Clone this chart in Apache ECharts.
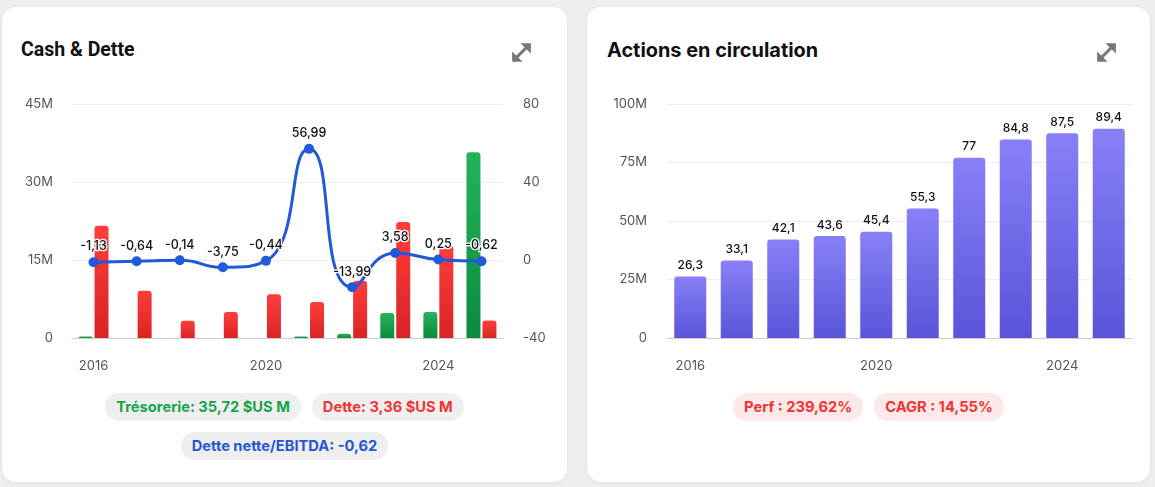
<!DOCTYPE html>
<html>
<head>
<meta charset="utf-8">
<script src="https://cdn.jsdelivr.net/npm/echarts@6/dist/echarts.min.js"></script>
<style>
  html, body { margin:0; padding:0; width:1155px; height:487px; background:#eeeeee; overflow:hidden; font-family: Inter, "Noto Sans", sans-serif; }
  .card { position:absolute; top:7px; height:475px; background:#fff; border-radius:14px; box-shadow:0 1px 4px rgba(0,0,0,0.06); }
  .title { position:absolute; top:31px; font-weight:700; color:#111; }
  .icon { position:absolute; top:32px; width:27px; height:27px; }
  .chart { position:absolute; top:90px; height:290px; }
  .row { position:absolute; left:0; right:0; display:flex; justify-content:center; gap:11px; }
  .pill { height:28px; line-height:28px; padding:0 11px; border-radius:14px; font-size:14.7px; font-weight:700; white-space:nowrap; }
</style>
</head>
<body>
<div class="card" style="left:2px; width:565px;">
  <div class="title" style="left:19px; font-size:19.5px; font-family:Roboto, Inter, sans-serif;">Cash &amp; Dette</div>
  <svg class="icon" style="left:506px;" viewBox="0 0 26 26"><g stroke="#777" stroke-width="3" fill="#777"><line x1="6" y1="20" x2="20" y2="6"/></g><polygon points="12,4 22,4 22,14" fill="#777"/><polygon points="4,12 4,22 14,22" fill="#777"/></svg>
  <div class="row" style="top:386px;">
    <div class="pill" style="background:#efefef; color:#16a34a;">Trésorerie: 35,72 $US M</div>
    <div class="pill" style="background:#efefef; color:#ef3434;">Dette: 3,36 $US M</div>
  </div>
  <div class="row" style="top:425px;">
    <div class="pill" style="background:#efefef; color:#2556d2;">Dette nette/EBITDA: -0,62</div>
  </div>
</div>
<div class="card" style="left:587px; width:563px;">
  <div class="title" style="left:20px; font-size:19.9px;">Actions en circulation</div>
  <svg class="icon" style="left:506px;" viewBox="0 0 26 26"><g stroke="#777" stroke-width="3" fill="#777"><line x1="6" y1="20" x2="20" y2="6"/></g><polygon points="12,4 22,4 22,14" fill="#777"/><polygon points="4,12 4,22 14,22" fill="#777"/></svg>
  <div class="row" style="top:386px;">
    <div class="pill" style="background:#fde9e9; color:#ef3434;">Perf : 239,62%</div>
    <div class="pill" style="background:#fde9e9; color:#ef3434;">CAGR : 14,55%</div>
  </div>
</div>
<div id="c1" class="chart" style="left:2px; width:565px;"></div>
<div id="c2" class="chart" style="left:587px; width:563px;"></div>
<script>
// ---- Data ----
const years = ['2016','2017','2018','2019','2020','2021','2022','2023','2024','2025'];
const cash = [0.3, 0, 0, 0, 0, 0.3, 0.8, 4.8, 5.0, 35.72];      // $US M
const debt = [21.6, 9.1, 3.3, 5.0, 8.4, 6.9, 11.0, 22.3, 17.8, 3.36]; // $US M
const netDebtEbitda = [-1.13, -0.64, -0.14, -3.75, -0.44, 56.99, -13.99, 3.58, 0.25, -0.62];
const leftTicks = { min: 0, max: 45, interval: 15 };
const rightTicks = { min: -40, max: 80, interval: 40 };
const shares = [26.3, 33.1, 42.1, 43.6, 45.4, 55.3, 77, 84.8, 87.5, 89.4]; // M
const sharesTicks = { min: 0, max: 100, interval: 25 };

const fmtComma = v => String(v).replace('.', ',');
const fmtM = v => v === 0 ? '0' : v + 'M';
const FONT = 'Inter, "Noto Sans", sans-serif';
const grad = (a, b) => new echarts.graphic.LinearGradient(0, 0, 0, 1, [{offset:0, color:a}, {offset:1, color:b}]);

const axisLabelStyle = { color:'#555', fontSize:13, fontFamily:FONT };

const c1 = echarts.init(document.getElementById('c1'));
c1.setOption({
  animation:false,
  grid:{ left:70, right:64, top:14, bottom:42 },
  xAxis:{
    type:'category', data:years, boundaryGap:true,
    axisLine:{ lineStyle:{ color:'#cccccc' } },
    axisTick:{ alignWithLabel:true, interval:1, length:5, lineStyle:{ color:'#cccccc' } },
    axisLabel:{ ...axisLabelStyle, interval:3, margin:22 }
  },
  yAxis:[
    { type:'value', ...leftTicks, axisLabel:{ ...axisLabelStyle, margin:19, formatter:fmtM },
      splitLine:{ lineStyle:{ color:'#eeeeee' } }, axisLine:{show:false}, axisTick:{show:false} },
    { type:'value', ...rightTicks, axisLabel:{ ...axisLabelStyle, margin:20 },
      splitLine:{ show:false }, axisLine:{show:false}, axisTick:{show:false} }
  ],
  series:[
    { type:'bar', name:'Trésorerie', data:cash, barWidth:14, barGap:'14%',
      itemStyle:{ color:grad('#22b55c','#0c8a3b'), borderRadius:[3,3,0,0] } },
    { type:'bar', name:'Dette', data:debt, barWidth:14,
      itemStyle:{ color:grad('#ff3d3d','#d92424'), borderRadius:[3,3,0,0] } },
    { type:'line', name:'Dette nette/EBITDA', yAxisIndex:1, data:netDebtEbitda, smooth:0.55,
      symbol:'circle', symbolSize:10, z:5,
      lineStyle:{ color:'#2059d9', width:3 }, itemStyle:{ color:'#2059d9' },
      label:{ show:true, position:'top', distance:4, color:'#111', fontSize:12.5, fontWeight:500, fontFamily:FONT,
              textBorderColor:'#fff', textBorderWidth:2.5, formatter:p => fmtComma(p.value) } }
  ]
});

const c2 = echarts.init(document.getElementById('c2'));
c2.setOption({
  animation:false,
  grid:{ left:80, right:18, top:14, bottom:42 },
  xAxis:{
    type:'category', data:years, boundaryGap:true,
    axisLine:{ lineStyle:{ color:'#cccccc' } },
    axisTick:{ alignWithLabel:true, interval:1, length:5, lineStyle:{ color:'#cccccc' } },
    axisLabel:{ ...axisLabelStyle, interval:3, margin:22 }
  },
  yAxis:{ type:'value', ...sharesTicks, axisLabel:{ ...axisLabelStyle, margin:20, formatter:fmtM },
    splitLine:{ lineStyle:{ color:'#eeeeee' } }, axisLine:{show:false}, axisTick:{show:false} },
  series:[
    { type:'bar', data:shares, barWidth:32,
      itemStyle:{ color:grad('#8880f8','#5a54d8'), borderRadius:[3,3,0,0] },
      label:{ show:true, position:'top', distance:5, color:'#111', fontSize:12, fontWeight:500, fontFamily:FONT,
              formatter:p => fmtComma(p.value) } }
  ]
});
</script>
</body>
</html>
